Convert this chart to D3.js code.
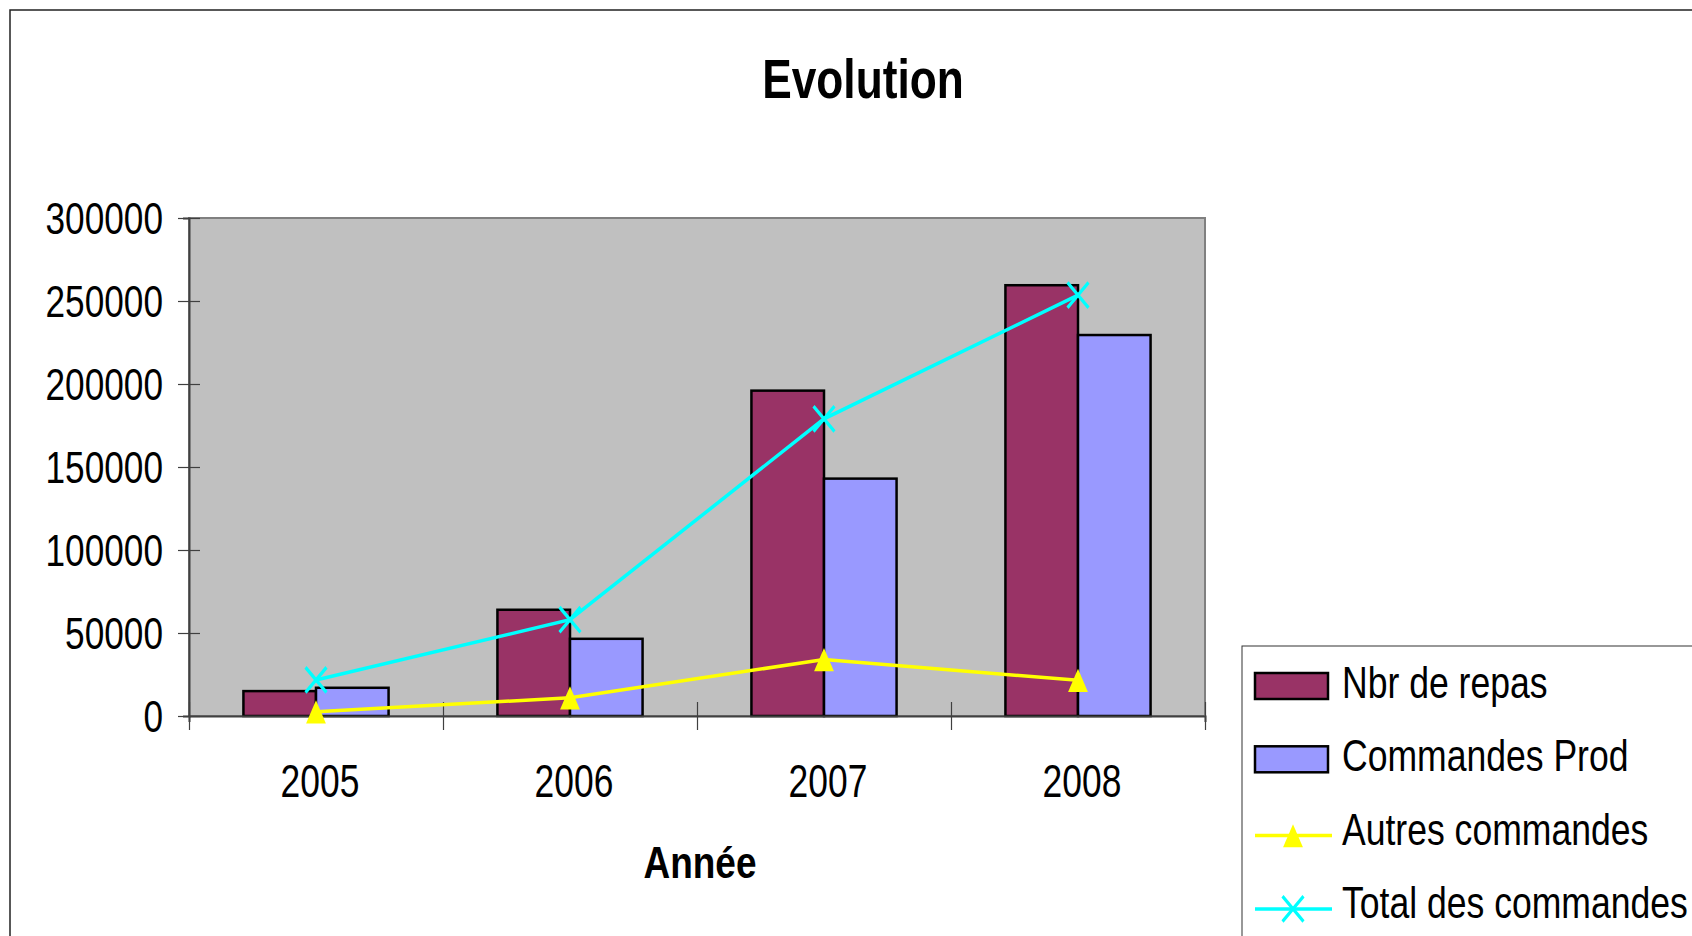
<!DOCTYPE html>
<html>
<head>
<meta charset="utf-8">
<script src="https://cdn.jsdelivr.net/npm/d3@7"></script>
<style>
body {margin:0; background:#fff;}
text {font-family:"Liberation Sans", Arial, sans-serif; fill:#000;}
</style>
</head>
<body>
<svg id="chart" width="1692" height="936"></svg>
<script>
//data
var years = ["2005", "2006", "2007", "2008"];
var nbrRepas = [15000, 64000, 196000, 259500];
var commandesProd = [17000, 46500, 143000, 229500];
var autresCommandes = [2600, 11000, 34000, 21500];
var totalCommandes = [21700, 58000, 179000, 253500];
var yTicks = [0, 50000, 100000, 150000, 200000, 250000, 300000];
var legendLabels = ["Nbr de repas", "Commandes Prod", "Autres commandes", "Total des commandes"];

var margin = {t: 218, l: 189};
var width = 1016, height = 498;

var svg = d3.select('#chart');

// narrow the text like the original rendering
function squeeze(sel, k) {
    sel.each(function() {
        var w = this.getComputedTextLength();
        this.setAttribute('textLength', w * k);
        this.setAttribute('lengthAdjust', 'spacingAndGlyphs');
    });
}

// outer frame
svg.append('rect')
    .attr('x', 10).attr('y', 10)
    .attr('width', 1800).attr('height', 1000)
    .attr('fill', 'none').attr('stroke', '#222').attr('stroke-width', 1.5);

// title
svg.append('text')
    .attr('x', 863).attr('y', 98)
    .attr('text-anchor', 'middle')
    .style('font-size', '56px').style('font-weight', 'bold')
    .text('Evolution')
    .call(squeeze, 0.79);

var scaleX = d3.scaleBand().domain(years).range([0, width]);
var scaleSub = d3.scaleBand().domain(['nbr', 'cmd']).range([0, scaleX.bandwidth()]).paddingOuter(0.75);
var scaleY = d3.scaleLinear().domain([0, 300000]).range([height, 0]);
var scaleEdge = d3.scaleLinear().domain([0, years.length]).range([0, width]);

var plot = svg.append('g').attr('transform', 'translate(' + margin.l + ',' + margin.t + ')');

// grey plot area
plot.append('rect')
    .attr('width', width).attr('height', height)
    .attr('fill', '#c0c0c0').attr('stroke', '#808080').attr('stroke-width', 2);

// bars
var series = [
    {key: 'nbr', values: nbrRepas, color: '#993366'},
    {key: 'cmd', values: commandesProd, color: '#9999ff'}
];
series.forEach(function(s) {
    plot.append('g').selectAll('rect')
        .data(s.values)
        .enter()
        .append('rect')
        .attr('x', function(d, i) { return scaleX(years[i]) + scaleSub(s.key); })
        .attr('y', function(d) { return scaleY(d); })
        .attr('width', scaleSub.bandwidth())
        .attr('height', function(d) { return height - scaleY(d); })
        .attr('fill', s.color)
        .attr('stroke', '#000').attr('stroke-width', 2.5);
});

// axes
var axisY = d3.axisLeft(scaleY).tickValues(yTicks).tickFormat(d3.format('d'));
var gy = plot.append('g').attr('class', 'axis-y').call(axisY);
gy.select('.domain').attr('stroke', '#404040').attr('stroke-width', 2);
gy.selectAll('.tick line').attr('x1', -11).attr('x2', 11).attr('stroke', '#404040').attr('stroke-width', 1.2);
gy.selectAll('.tick text')
    .attr('x', -26).attr('dy', null).attr('y', 15)
    .attr('font-family', null).attr('font-size', null)
    .style('font-size', '44px')
    .call(squeeze, 0.8);

var axisEdge = d3.axisBottom(scaleEdge).tickValues(d3.range(years.length + 1)).tickFormat('');
var gx = plot.append('g').attr('transform', 'translate(0,' + height + ')').call(axisEdge);
gx.select('.domain').attr('stroke', '#404040').attr('stroke-width', 2);
gx.selectAll('.tick line').attr('y1', -14).attr('y2', 14).attr('stroke', '#404040').attr('stroke-width', 1.2);

var axisX = d3.axisBottom(scaleX).tickSize(0).tickPadding(0);
var gxl = plot.append('g').attr('transform', 'translate(0,' + height + ')').call(axisX);
gxl.select('.domain').remove();
gxl.selectAll('.tick text')
    .attr('dy', null).attr('y', 81).attr('dx', 4)
    .attr('font-family', null).attr('font-size', null)
    .style('font-size', '46px')
    .call(squeeze, 0.77);

plot.append('text')
    .attr('x', width / 2 + 3).attr('y', 878 - margin.t)
    .attr('text-anchor', 'middle')
    .style('font-size', '44px').style('font-weight', 'bold')
    .text('Année')
    .call(squeeze, 0.84);

// lines
var cx = function(d, i) { return scaleX(years[i]) + scaleX.bandwidth() / 2; };
var line = d3.line().x(cx).y(function(d) { return scaleY(d); });

var triangle = d3.symbol().type(d3.symbolTriangle).size(170);
var cross = d3.symbol().type(d3.symbolX).size(290);

plot.append('path').datum(autresCommandes)
    .attr('d', line).attr('fill', 'none').attr('stroke', '#ffff00').attr('stroke-width', 3.5);
plot.append('g').selectAll('path')
    .data(autresCommandes).enter().append('path')
    .attr('d', triangle)
    .attr('transform', function(d, i) { return 'translate(' + cx(d, i) + ',' + (scaleY(d) + 4) + ') scale(1,1.35)'; })
    .attr('fill', '#ffff00');

plot.append('path').datum(totalCommandes)
    .attr('d', line).attr('fill', 'none').attr('stroke', '#00ffff').attr('stroke-width', 3.5);
plot.append('g').selectAll('path')
    .data(totalCommandes).enter().append('path')
    .attr('d', cross)
    .attr('transform', function(d, i) { return 'translate(' + cx(d, i) + ',' + scaleY(d) + ') scale(1,1.2)'; })
    .attr('fill', 'none').attr('stroke', '#00ffff').attr('stroke-width', 3);

// legend
var legend = svg.append('g').attr('transform', 'translate(1242,646)');
legend.append('rect')
    .attr('width', 600).attr('height', 400)
    .attr('fill', '#fff').attr('stroke', '#333').attr('stroke-width', 1);

var legendItems = legend.selectAll('.item')
    .data(legendLabels).enter().append('g')
    .attr('class', 'item')
    .attr('transform', function(d, i) { return 'translate(0,' + (52 + i * 73.3) + ')'; });

legendItems.append('text')
    .attr('x', 100)
    .style('font-size', '45px')
    .text(function(d) { return d; })
    .call(squeeze, 0.79);

legendItems.filter(function(d, i) { return i < 2; })
    .append('rect')
    .attr('x', 13).attr('y', -25).attr('width', 73).attr('height', 26)
    .attr('fill', function(d, i) { return series[i].color; })
    .attr('stroke', '#000').attr('stroke-width', 2.5);

var lineItems = [
    {color: '#ffff00', sym: triangle, fill: '#ffff00', stroke: 'none', sy: 1.35, dy: 4},
    {color: '#00ffff', sym: cross, fill: 'none', stroke: '#00ffff', sy: 1.2, dy: 0}
];
legendItems.filter(function(d, i) { return i >= 2; })
    .each(function(d, i) {
        var g = d3.select(this), it = lineItems[i];
        g.append('line')
            .attr('x1', 13).attr('x2', 90).attr('y1', -9).attr('y2', -9)
            .attr('stroke', it.color).attr('stroke-width', 3.5);
        g.append('path')
            .attr('d', it.sym)
            .attr('transform', 'translate(51,' + (-9 + it.dy) + ') scale(1,' + it.sy + ')')
            .attr('fill', it.fill).attr('stroke', it.stroke).attr('stroke-width', 3);
    });
</script>
</body>
</html>
